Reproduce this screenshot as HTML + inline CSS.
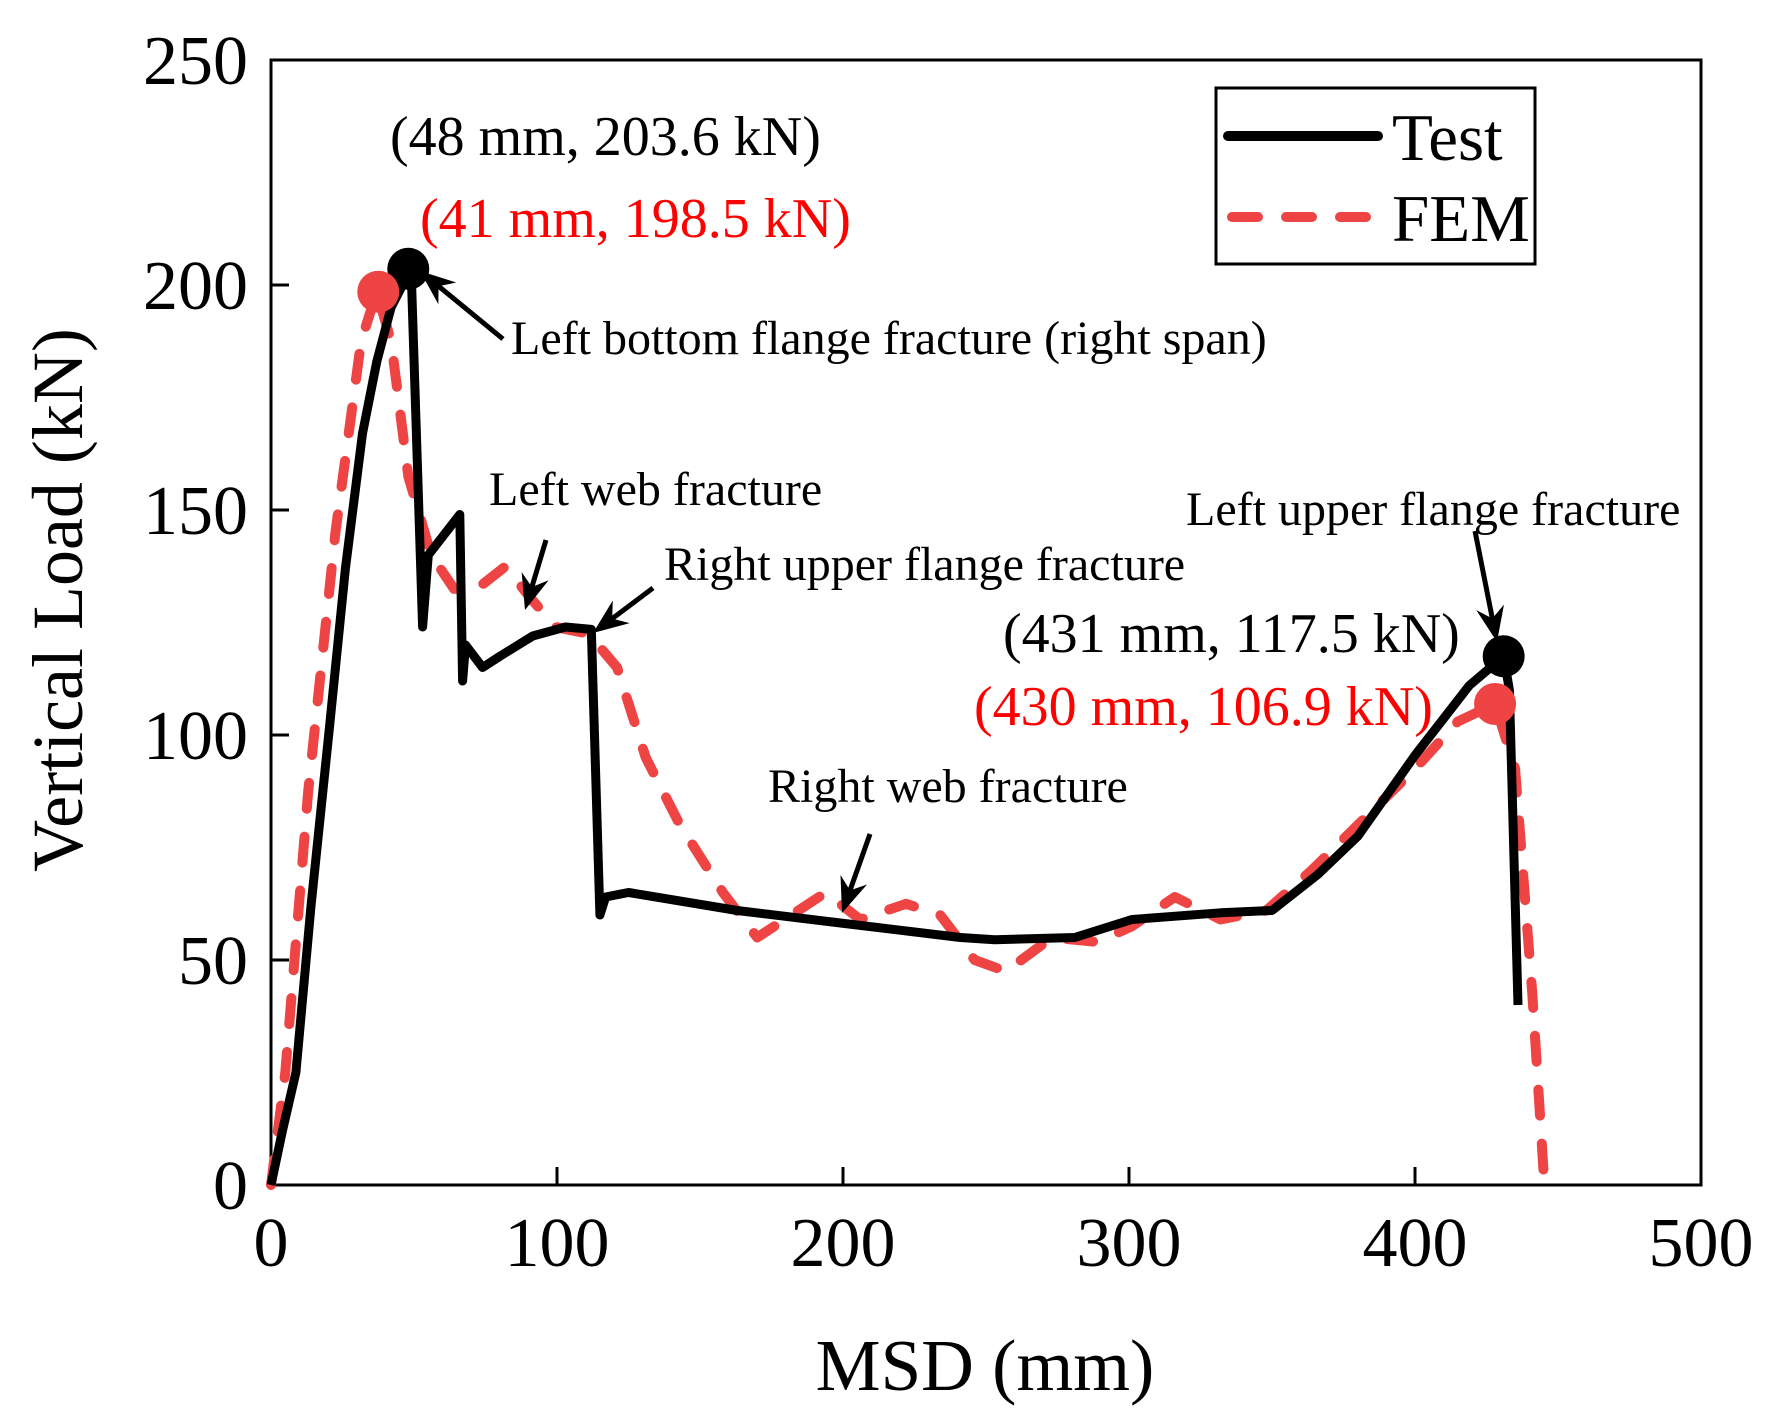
<!DOCTYPE html>
<html><head><meta charset="utf-8"><style>
html,body{margin:0;padding:0;background:#fff}
svg{display:block}
text{font-family:"Liberation Serif",serif}
</style></head><body>
<svg id="chart" width="1772" height="1419" viewBox="0 0 1772 1419" xmlns="http://www.w3.org/2000/svg">
<g id="plot"></g>
</svg>
<script>
const testX = [0,4,8.7,14,20.5,26,32,37,42,46,49,53,55,66,67,68,74,80,91.5,103,112,115,117,125,163,202,241,253,281,301,332,350,366,380,400,419,431,433,436];
const testY = [0,12,25,62,102,137,167,183,195,200,203.6,124,140,149,112,120,115,117.5,122,124,123.5,60,64,65,61,58,55,54.5,55,59,60.5,61,69,77.5,95.5,111,117.5,110,40];
const femX = [0,5,13,22.5,31.5,37,42,48,56,64,72,82,90,99.5,111,121,131,143,158,170,182,194,206,222,234,246,257,273,289,301,316,332,348,364,380,400,415,428,435,441,445,450];
const femY = [0,25,87.5,145,187.5,198.5,187.5,157.5,140,132.5,132.5,137.5,131,124,122.5,115,95,80,65,55,60,65,59,62.5,60,50,47.5,55,54,57.5,64,59,61,70,80,92.5,103,106.9,92.5,42.5,2.5,1];
const testPeaks = [[48,203.6],[431,117.5]];
const femPeaks = [[37.5,198.5],[428,106.9]];
const xTicks = [0,100,200,300,400,500];
const yTicks = [0,50,100,150,200,250];

const X0=271, X1=1701, Y0=1185, Y1=60;
const sx = v => X0 + v/500*(X1-X0);
const sy = v => Y0 - v/250*(Y0-Y1);
const NS="http://www.w3.org/2000/svg";
const g=document.getElementById('plot');
function mk(tag, attrs, parent){const e=document.createElementNS(NS,tag);for(const k in attrs)e.setAttribute(k,attrs[k]);(parent||g).appendChild(e);return e;}

const frame=mk('rect',{x:X0,y:Y1,width:X1-X0,height:Y0-Y1,fill:'none',stroke:'#000','stroke-width':3});



xTicks.forEach(t=>{
  const l=mk('line',{x1:sx(t),x2:sx(t),y1:Y0,y2:Y0-18,stroke:'#000','stroke-width':3});
  
  
  const tx=mk('text',{x:sx(t),y:1266,'text-anchor':'middle','font-size':70});
  tx.textContent=t;
  
  
});
yTicks.forEach(t=>{
  const l=mk('line',{x1:X0,x2:X0+18,y1:sy(t),y2:sy(t),stroke:'#000','stroke-width':3});
  
  
  const tx=mk('text',{x:248,y:sy(t)+24,'text-anchor':'end','font-size':70});
  tx.textContent=t;
  
  
});

function path(xs,ys){return xs.map((x,i)=>(i?'L':'M')+sx(x).toFixed(1)+','+sy(ys[i]).toFixed(1)).join('');}
const fem=mk('path',{d:path(femX,femY),fill:'none',stroke:'#ef4444','stroke-width':10,'stroke-dasharray':'26 28','stroke-linecap':'round','stroke-linejoin':'round'});


const test=mk('path',{d:path(testX,testY),fill:'none',stroke:'#000','stroke-width':9,'stroke-linejoin':'round'});



testPeaks.forEach(p=>{
  const c=mk('circle',{cx:sx(p[0]),cy:sy(p[1]),r:21,fill:'#000'});
  
  
});
femPeaks.forEach(p=>{
  const c=mk('circle',{cx:sx(p[0]),cy:sy(p[1]),r:21,fill:'#ef4444'});
  
  
});

const arrows=[[503,339,420,271],[546,540,525,610],[653,588,593,633],[870,834,842,913],[1475,531,1497,642]];
arrows.forEach(a=>{
  const [x1,y1,x2,y2]=a;const ang=Math.atan2(y2-y1,x2-x1);
  const L=38,w=0.38;
  const ax=x2-L*Math.cos(ang-w),ay=y2-L*Math.sin(ang-w),bx=x2-L*Math.cos(ang+w),by=y2-L*Math.sin(ang+w);
  const cx=x2-24*Math.cos(ang),cy=y2-24*Math.sin(ang);
  const ln=mk('line',{x1:x1,y1:y1,x2:cx,y2:cy,stroke:'#000','stroke-width':5});
  
  
  const hd=mk('path',{d:`M${x2},${y2}L${ax},${ay}L${cx},${cy}L${bx},${by}Z`,fill:'#000'});
  
  
});
</script>
<svg style="position:absolute;left:0;top:0" width="1772" height="1419">
<text x="390" y="155" font-size="56" fill="#000" style="font-family:'Liberation Serif',serif">(48 mm, 203.6 kN)</text>
<text x="420" y="237" font-size="56" fill="#ff0000" style="font-family:'Liberation Serif',serif">(41 mm, 198.5 kN)</text>
<text x="511" y="354" font-size="48" fill="#000" style="font-family:'Liberation Serif',serif">Left bottom flange fracture (right span)</text>
<text x="489" y="505" font-size="48" fill="#000" style="font-family:'Liberation Serif',serif">Left web fracture</text>
<text x="664" y="580" font-size="48" fill="#000" style="font-family:'Liberation Serif',serif">Right upper flange fracture</text>
<text x="1186" y="525" font-size="48" fill="#000" style="font-family:'Liberation Serif',serif">Left upper flange fracture</text>
<text x="1003" y="652" font-size="56" fill="#000" style="font-family:'Liberation Serif',serif">(431 mm, 117.5 kN)</text>
<text x="974" y="725" font-size="56" fill="#ff0000" style="font-family:'Liberation Serif',serif">(430 mm, 106.9 kN)</text>
<text x="768" y="802" font-size="48" fill="#000" style="font-family:'Liberation Serif',serif">Right web fracture</text>
<g>
<rect x="1216" y="88" width="319" height="176" fill="#fff" stroke="#000" stroke-width="3"/>
<line x1="1228" y1="136" x2="1378" y2="136" stroke="#000" stroke-width="10" stroke-linecap="round"/>
<text x="1392" y="160" font-size="67" style="font-family:'Liberation Serif',serif">Test</text>
<line x1="1232" y1="217" x2="1378" y2="217" stroke="#ef4444" stroke-width="10" stroke-dasharray="26 28" stroke-linecap="round"/>
<text x="1392" y="241" font-size="67" style="font-family:'Liberation Serif',serif">FEM</text>
</g>
<text x="985" y="1390" font-size="73" text-anchor="middle" style="font-family:'Liberation Serif',serif">MSD (mm)</text>
<text transform="translate(82,600) rotate(-90)" font-size="72" text-anchor="middle" style="font-family:'Liberation Serif',serif">Vertical Load (kN)</text>
</svg>
</body></html>
